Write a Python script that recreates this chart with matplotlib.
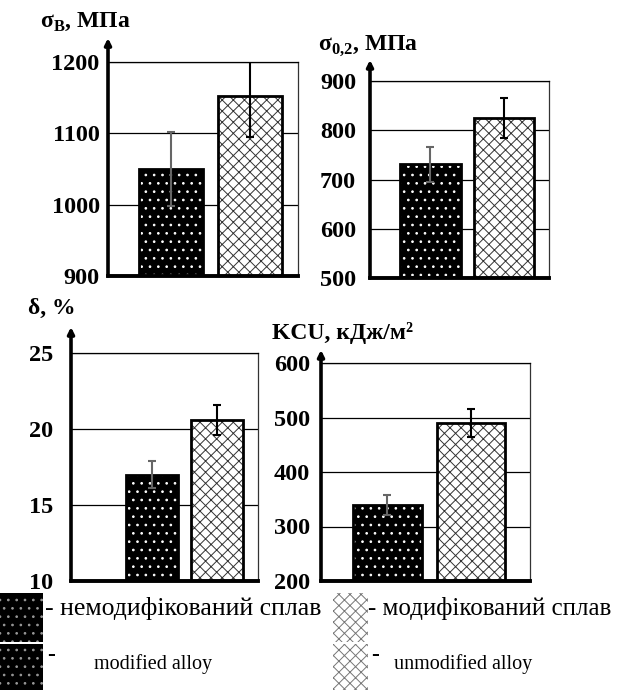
import matplotlib
matplotlib.use('Agg')
import matplotlib.pyplot as plt
from matplotlib.patches import Rectangle

plt.rcParams['font.family'] = ['Liberation Serif', 'DejaVu Serif']
plt.rcParams['mathtext.fontset'] = 'custom'
plt.rcParams['mathtext.rm'] = 'Liberation Serif'
plt.rcParams['mathtext.bf'] = 'Liberation Serif:bold'
plt.rcParams['hatch.linewidth'] = 0.7

# --- data ---
labels_ua = ['немодифікований сплав', 'модифікований сплав']
labels_en = ['modified alloy', 'unmodified alloy']

sigma_b = [1050, 1152]
sigma_b_err = [52, 57]
sigma_02 = [731, 825]
sigma_02_err = [36, 41]
delta = [17.0, 20.6]
delta_err = [0.9, 1.0]
kcu = [340, 490]
kcu_err = [18, 25]

sigma_b_ticks = [900, 1000, 1100, 1200]
sigma_02_ticks = [500, 600, 700, 800, 900]
delta_ticks = [10, 15, 20, 25]
kcu_ticks = [200, 300, 400, 500, 600]

W, H = 618, 690
fig = plt.figure(figsize=(W / 100, H / 100), dpi=100)


def px_box(left, right, top, bottom):
    return [left / W, 1 - bottom / H, (right - left) / W, (bottom - top) / H]


def draw_panel(box, vals, errs, ticks, xlim, width, arrow_top, pad, title, title_xy):
    ax = fig.add_axes(box)
    x = [0, 1]
    # dark bar: black with white dots
    ax.bar(x[0], vals[0] - ticks[0], bottom=ticks[0], width=width, color='black',
           edgecolor='white', hatch='..', linewidth=0, zorder=2)
    # hatched bar: white with gray cross-hatch
    ax.bar(x[1], vals[1] - ticks[0], bottom=ticks[0], width=width, color='white',
           edgecolor='#333333', hatch='xxx', linewidth=0, zorder=2)
    # outlines
    ax.bar(x, [v - ticks[0] for v in vals], bottom=ticks[0], width=width, fill=False,
           edgecolor='black', linewidth=2, zorder=3)
    ax.errorbar(x[0], vals[0], yerr=errs[0], fmt='none', ecolor='#666666',
                elinewidth=1.5, capsize=3, capthick=1.5, zorder=4)
    ax.errorbar(x[1], vals[1], yerr=errs[1], fmt='none', ecolor='black',
                elinewidth=1.5, capsize=3, capthick=1.5, zorder=4)

    ax.set_xlim(*xlim)
    ax.set_ylim(ticks[0], ticks[-1])
    ax.set_yticks(ticks)
    ax.set_xticks([])
    ax.tick_params(axis='y', length=0, pad=pad, labelsize=17.5)
    for lab in ax.get_yticklabels():
        lab.set_fontweight('bold')
    ax.set_axisbelow(True)
    ax.yaxis.grid(True, color='black', linewidth=0.9)

    ax.spines['left'].set_visible(False)
    ax.spines['top'].set_linewidth(0.9)
    ax.spines['right'].set_linewidth(0.9)
    ax.spines['right'].set_color('#333333')
    ax.spines['bottom'].set_linewidth(2.8)

    ax.annotate('', xy=(0, arrow_top), xytext=(0, 0), xycoords='axes fraction',
                arrowprops=dict(arrowstyle='-|>', lw=2.6, color='black',
                                mutation_scale=9, shrinkA=0, shrinkB=0))
    fig.text(title_xy[0] / W, 1 - title_xy[1] / H, title, fontsize=17,
             fontweight='bold', va='center', ha='left')
    return ax


draw_panel(px_box(108, 298, 62, 276), sigma_b, sigma_b_err, sigma_b_ticks,
           (-0.797, 1.608), 0.81, 1.112, 6, 'σ$_\\mathbf{В}$, МПа', (40, 22))
draw_panel(px_box(370, 549, 81, 278), sigma_02, sigma_02_err, sigma_02_ticks,
           (-0.823, 1.612), 0.82, 1.107, 10, 'σ$_\\mathbf{0{,}2}$, МПа', (318, 45))
draw_panel(px_box(71, 258, 353, 581), delta, delta_err, delta_ticks,
           (-1.246, 1.63), 0.8, 1.114, 13, 'δ, %', (28, 308))
draw_panel(px_box(321, 530, 363, 581), kcu, kcu_err, kcu_ticks,
           (-0.796, 1.707), 0.82, 1.06, 8, 'KCU, кДж/м²', (272, 333))

# --- legend drawn on the figure ---
def fig_rect(left, right, top, bottom, **kw):
    r = Rectangle((left / W, 1 - bottom / H), (right - left) / W, (bottom - top) / H,
                  transform=fig.transFigure, figure=fig, **kw)
    fig.patches.append(r)


for top, bottom in [(593, 642), (644, 690)]:
    fig_rect(0, 43, top, bottom, facecolor='black', edgecolor='#999999', hatch='..', linewidth=0)
    fig_rect(333, 368, top, bottom, facecolor='white', edgecolor='#777777', hatch='xxx', linewidth=0)

fig.text(45 / W, 1 - 609 / H, '- ' + labels_ua[0], fontsize=18.5, va='center', ha='left')
fig.text(368 / W, 1 - 609 / H, '- ' + labels_ua[1], fontsize=18, va='center', ha='left')
fig.text(47 / W, 1 - 656 / H, '-', fontsize=17, fontweight='bold', va='center', ha='left')
fig.text(94 / W, 1 - 664 / H, labels_en[0], fontsize=14.5, va='center', ha='left')
fig.text(371 / W, 1 - 656 / H, '-', fontsize=17, fontweight='bold', va='center', ha='left')
fig.text(394 / W, 1 - 664 / H, labels_en[1], fontsize=14.5, va='center', ha='left')

fig.savefig('out.png', dpi=100)
